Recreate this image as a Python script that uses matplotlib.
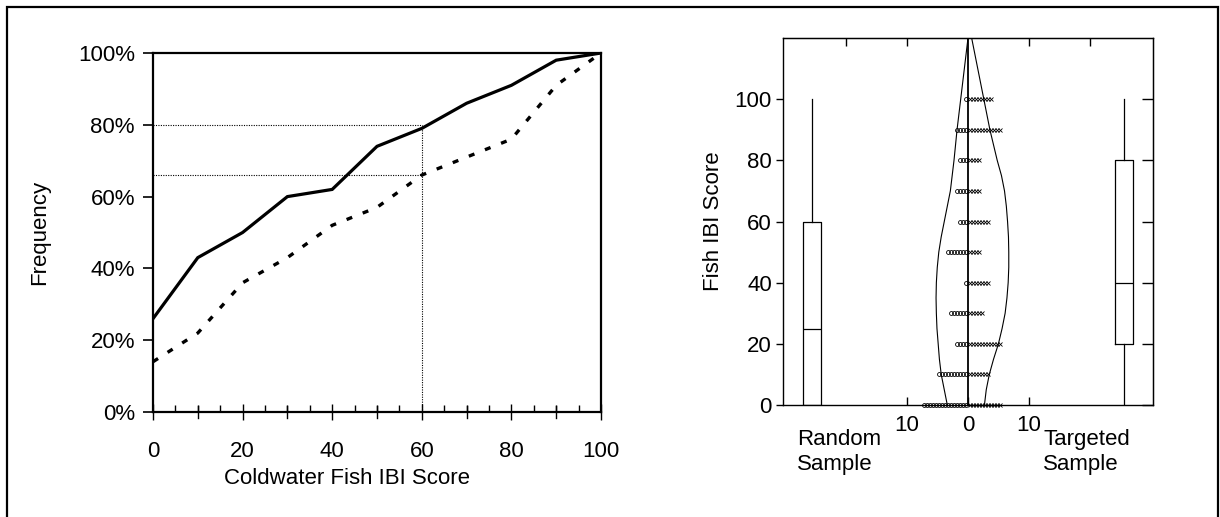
import numpy as np
import matplotlib
matplotlib.use("Agg")
import matplotlib.pyplot as plt
from matplotlib.ticker import PercentFormatter, MultipleLocator
from matplotlib.patches import Rectangle

plt.rcParams['font.family'] = ['Liberation Sans', 'DejaVu Sans']

# ---------------- data ----------------
# Left panel: cumulative frequency curves
scores = [0, 10, 20, 30, 40, 50, 60, 70, 80, 90, 100]
random_cum = [0.26, 0.43, 0.50, 0.60, 0.62, 0.74, 0.79, 0.86, 0.91, 0.98, 1.00]
targeted_cum = [0.14, 0.22, 0.36, 0.43, 0.52, 0.57, 0.66, 0.71, 0.76, 0.91, 1.00]
ref_score = 60
ref_random = 0.80
ref_targeted = 0.66

# Right panel: dot counts per score level
levels = [0, 10, 20, 30, 40, 50, 60, 70, 80, 90, 100]
random_counts = [15, 10, 4, 6, 1, 7, 3, 4, 3, 4, 1]
targeted_counts = [11, 7, 11, 5, 7, 4, 7, 4, 4, 11, 8]

# Right panel: density outlines (half-widths)
dens_y = [0, 5, 10, 15, 20, 25, 30, 35, 40, 45, 50, 55, 60, 65, 70, 75, 80, 85,
          90, 95, 100, 105, 110, 115, 120]
random_dens = [3.4, 3.9, 4.4, 4.7, 4.9, 5.1, 5.2, 5.25, 5.2, 5.05, 4.8, 4.4, 3.9,
               3.4, 2.9, 2.6, 2.3, 2.05, 1.8, 1.5, 1.2, 0.9, 0.6, 0.3, 0.0]
targeted_dens = [2.7, 3.0, 3.5, 4.2, 5.0, 5.6, 6.1, 6.4, 6.6, 6.7, 6.7, 6.65, 6.5,
                 6.3, 6.0, 5.5, 4.8, 4.2, 3.6, 3.1, 2.6, 2.1, 1.6, 1.1, 0.6]

# Right panel: box plot stats
random_box = dict(whislo=0, q1=0, med=25, q3=60, whishi=100, label='')
targeted_box = dict(whislo=0, q1=20, med=40, q3=80, whishi=100, label='')
box_pos = [-25.6, 25.6]

W, H = 1220, 517
fig = plt.figure(figsize=(W / 100, H / 100), dpi=100)

# figure frame
fig.add_artist(Rectangle((7 / W, -0.05), (1218 - 7) / W, 1 - 7 / H + 0.05,
                         transform=fig.transFigure, fill=False, lw=1.6,
                         edgecolor='black', clip_on=False))

FS = 16

# ---------------- left panel ----------------
ax1 = fig.add_axes([153 / W, 1 - 412 / H, 448 / W, 359 / H])
ax1.plot(scores, random_cum, color='black', lw=2.3, solid_joinstyle='miter')
ax1.plot(scores, targeted_cum, color='black', lw=2.4, ls=(0, (1.8, 3.4)))
ax1.plot([0, ref_score], [ref_random, ref_random], color='black', lw=0.8, ls=(0, (1, 1.2)))
ax1.plot([0, ref_score], [ref_targeted, ref_targeted], color='black', lw=0.8, ls=(0, (1, 1.2)))
ax1.plot([ref_score, ref_score], [0, ref_random], color='black', lw=0.8, ls=(0, (1, 1.2)))
ax1.set_xlim(0, 100)
ax1.set_ylim(0, 1)
ax1.yaxis.set_major_formatter(PercentFormatter(1.0, decimals=0))
ax1.set_yticks([0, 0.2, 0.4, 0.6, 0.8, 1.0])
ax1.set_xticks([0, 20, 40, 60, 80, 100])
ax1.xaxis.set_minor_locator(MultipleLocator(5))
for s in ax1.spines.values():
    s.set_linewidth(1.6)
ax1.tick_params(axis='y', direction='out', length=7, width=1.2, pad=6, labelsize=FS)
ax1.tick_params(axis='x', which='major', direction='inout', length=12, width=1.0, pad=15, labelsize=FS)
ax1.tick_params(axis='x', which='minor', direction='in', length=5, width=1.0)
for xv in [10, 30, 50, 70, 90]:
    ax1.plot([xv, xv], [-0.017, 0.017], color='black', lw=1.0, clip_on=False)
ax1.set_ylabel('Frequency', fontsize=FS, labelpad=20)
fig.text(347 / W, 1 - 478 / H, 'Coldwater Fish IBI Score', fontsize=FS,
         ha='center', va='center')

# ---------------- right panel ----------------
ax2 = fig.add_axes([783 / W, 1 - 405 / H, 370 / W, 367 / H])
ax2.set_xlim(-30.4, 30.4)
ax2.set_ylim(0, 120)

ax2.bxp([random_box, targeted_box], positions=box_pos, widths=3.0,
        showfliers=False, showcaps=False, patch_artist=False,
        boxprops=dict(color='black', lw=0.9),
        whiskerprops=dict(color='black', lw=0.9),
        medianprops=dict(color='black', lw=0.9))

ax2.plot([0, 0], [0, 120], color='black', lw=1.3)
ax2.plot(-np.array(random_dens), dens_y, color='black', lw=0.8)
ax2.plot(np.array(targeted_dens), dens_y, color='black', lw=0.8)

sp = 0.5
for lv, nr, nt in zip(levels, random_counts, targeted_counts):
    xo = -0.3 - sp * np.arange(nr)
    xx = 0.3 + sp * np.arange(nt)
    ax2.plot(xo, np.full(nr, lv), ls='none', marker='o', ms=2.8,
             mfc='none', mec='black', mew=0.6, clip_on=False)
    ax2.plot(xx, np.full(nt, lv), ls='none', marker='x', ms=2.6,
             mec='black', mew=0.6, clip_on=False)

for s in ax2.spines.values():
    s.set_linewidth(1.0)
ax2.set_yticks([0, 20, 40, 60, 80, 100])
ax2.tick_params(axis='y', direction='out', length=5, width=1.0, pad=3, labelsize=FS)
ax2.set_xticks([-10, 0, 10])
ax2.set_xticklabels(['10', '0', '10'])
ax2.tick_params(axis='x', direction='in', length=6, width=1.0, pad=7, labelsize=FS)
secx = ax2.secondary_xaxis('top')
secx.set_xticks([-20, -10, 10, 20])
secx.tick_params(direction='in', length=6, width=1.0, labeltop=False)
secy = ax2.secondary_yaxis('right')
secy.set_yticks([0, 20, 40, 60, 80, 100])
secy.tick_params(direction='in', length=8, width=1.0, labelright=False)
ax2.set_ylabel('Fish IBI Score', fontsize=FS, labelpad=8)

fig.text(797 / W, 1 - 452 / H, 'Random\nSample', fontsize=FS,
         ha='left', va='center', linespacing=1.3)
fig.text(1043 / W, 1 - 452 / H, 'Targeted\nSample', fontsize=FS,
         ha='left', va='center', linespacing=1.3)

fig.savefig('out.png', dpi=100)
